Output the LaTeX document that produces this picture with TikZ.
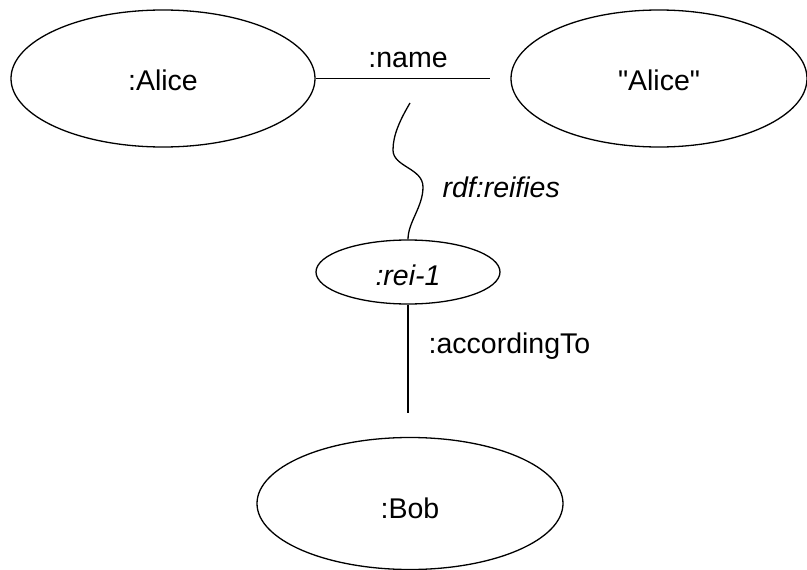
\documentclass[tikz,border=0pt]{standalone}
\usepackage{fontspec}
\setmainfont{Liberation Sans}
\newfontfamily\litfont{Liberation Sans}
\usetikzlibrary{shapes.geometric}
\begin{document}
\begin{tikzpicture}[x=1pt,y=-1pt,line width=1.3pt,
  ent/.style={draw, ellipse, inner sep=0pt, text depth=0pt,
    font=\fontsize{28.5}{34}\selectfont},
  lbl/.style={inner sep=0pt, font=\fontsize{28.5}{34}\selectfont}]
\useasboundingbox (0,0) rectangle (807,570);
\node[ent, minimum width=304pt, minimum height=137pt, text height=23pt] (alice) at (163,78.5) {:Alice};
\node[ent, minimum width=296pt, minimum height=137pt, text height=23pt] (aliceLit) at (659,78.5) {\litfont "Alice"};
\node[ent, minimum width=184pt, minimum height=64pt, text height=26pt] (rei) at (408,272) {\itshape :rei-1};
\node[ent, minimum width=306pt, minimum height=132pt, text height=30pt] (bob) at (410,503.5) {:Bob};
\coordinate (nameEnd) at (490,78.5);
\coordinate (wigTop) at (410,103);
\coordinate (accEnd) at (408,413);
\draw (alice.east) -- (nameEnd);
\draw (wigTop) .. controls (400,120) and (393,135) .. (393,150)
  .. controls (393,167) and (423,168) .. (423,187)
  .. controls (423,207) and (408,222) .. (rei.north);
\draw (rei.south) -- (accEnd);
\node[lbl, anchor=base] (nameLbl) at (408,67) {:name};
\node[lbl, anchor=base west] (reifLbl) at (442,197) {\itshape rdf:reifies};
\node[lbl, anchor=base west] (accLbl) at (428,353) {:accordingTo};
\end{tikzpicture}
\end{document}
